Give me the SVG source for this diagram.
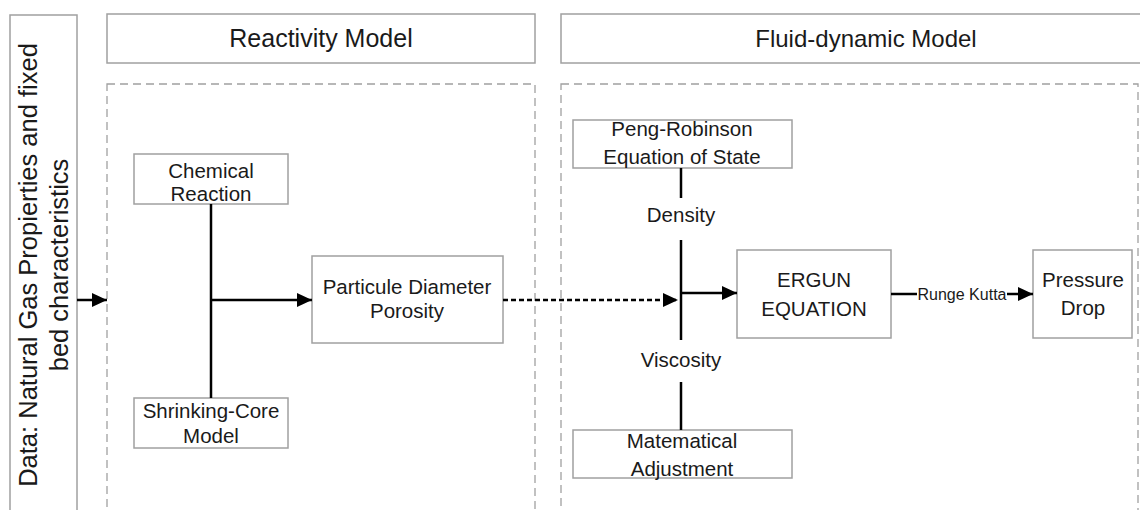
<svg xmlns="http://www.w3.org/2000/svg" width="1140" height="510" viewBox="0 0 1140 510">
<style>
text{font-family:"Liberation Sans",Arial,sans-serif;fill:#1a1a1a}
.hdr{font-size:25px;text-anchor:middle}
.lbl{font-size:20.5px;text-anchor:middle}
.rot{font-size:25.5px;text-anchor:middle}
.small{font-size:16px;text-anchor:middle}
.box{fill:#fff;stroke:#a0a0a0;stroke-width:1.5}
.dash{fill:none;stroke:#a0a0a0;stroke-width:1.3;stroke-dasharray:8 5}
.con{fill:none;stroke:#000;stroke-width:2.5}
</style>
<defs>
<marker id="ah" markerWidth="15" markerHeight="14" refX="15" refY="7" orient="auto" markerUnits="userSpaceOnUse"><path d="M0,0 L15,7 L0,14 z" fill="#000"/></marker>
</defs>
<rect width="1140" height="510" fill="#fff"/>

<g id="data">
<rect class="box" x="10" y="15" width="67" height="510"/>
<text class="rot" transform="translate(37,265) rotate(-90)">Data: Natural Gas Propierties and fixed</text>
<text class="rot" transform="translate(68,265) rotate(-90)">bed characteristics</text>
</g>

<g id="reactivity-header">
<rect class="box" x="107" y="14" width="428" height="49"/>
<text class="hdr" x="321" y="47">Reactivity Model</text>
</g>
<g id="fluid-header">
<rect class="box" x="561" y="14" width="620" height="49"/>
<text class="hdr" x="866" y="47" style="font-size:24px">Fluid-dynamic Model</text>
</g>

<g id="reactivity-area"><rect class="dash" x="107" y="84" width="428" height="440"/></g>
<g id="fluid-area"><rect class="dash" x="561" y="84" width="577" height="440"/></g>

<g id="chemical-reaction">
<rect class="box" x="134" y="154" width="154" height="50"/>
<text class="lbl" x="211" y="178">Chemical</text>
<text class="lbl" x="211" y="201">Reaction</text>
</g>
<g id="shrinking-core">
<rect class="box" x="134" y="398" width="154" height="50"/>
<text class="lbl" x="211" y="418">Shrinking-Core</text>
<text class="lbl" x="211" y="443">Model</text>
</g>
<g id="particule">
<rect class="box" x="312" y="256" width="191" height="87"/>
<text class="lbl" x="407" y="294">Particule Diameter</text>
<text class="lbl" x="407" y="318">Porosity</text>
</g>
<g id="peng-robinson">
<rect class="box" x="573" y="120" width="219" height="48"/>
<text class="lbl" x="682" y="136">Peng-Robinson</text>
<text class="lbl" x="682" y="164">Equation of State</text>
</g>
<g id="matematical">
<rect class="box" x="573" y="430" width="219" height="48"/>
<text class="lbl" x="682" y="448">Matematical</text>
<text class="lbl" x="682" y="476">Adjustment</text>
</g>
<g id="ergun">
<rect class="box" x="737" y="250" width="154" height="88"/>
<text class="lbl" x="814" y="287">ERGUN</text>
<text class="lbl" x="814" y="316">EQUATION</text>
</g>
<g id="pressure-drop">
<rect class="box" x="1033" y="250" width="99" height="88"/>
<text class="lbl" x="1083" y="287">Pressure</text>
<text class="lbl" x="1083" y="315">Drop</text>
</g>

<g id="connectors">
<line class="con" x1="77" y1="300" x2="107" y2="300" marker-end="url(#ah)"/>
<line class="con" x1="211" y1="204" x2="211" y2="398"/>
<line class="con" x1="211" y1="300" x2="312" y2="300" marker-end="url(#ah)"/>
<line class="con" x1="503" y1="300" x2="678" y2="300" stroke-dasharray="5 3" marker-end="url(#ah)"/>
<line class="con" x1="681" y1="168" x2="681" y2="198"/>
<text class="lbl" x="681" y="222">Density</text>
<line class="con" x1="681" y1="240" x2="681" y2="340"/>
<text class="lbl" x="681" y="367">Viscosity</text>
<line class="con" x1="681" y1="382" x2="681" y2="430"/>
<line class="con" x1="681" y1="293" x2="737" y2="293" marker-end="url(#ah)"/>
<line class="con" x1="891" y1="294" x2="917" y2="294"/>
<text class="small" x="962" y="300">Runge Kutta</text>
<line class="con" x1="1007" y1="294" x2="1033" y2="294" marker-end="url(#ah)"/>
</g>
</svg>
